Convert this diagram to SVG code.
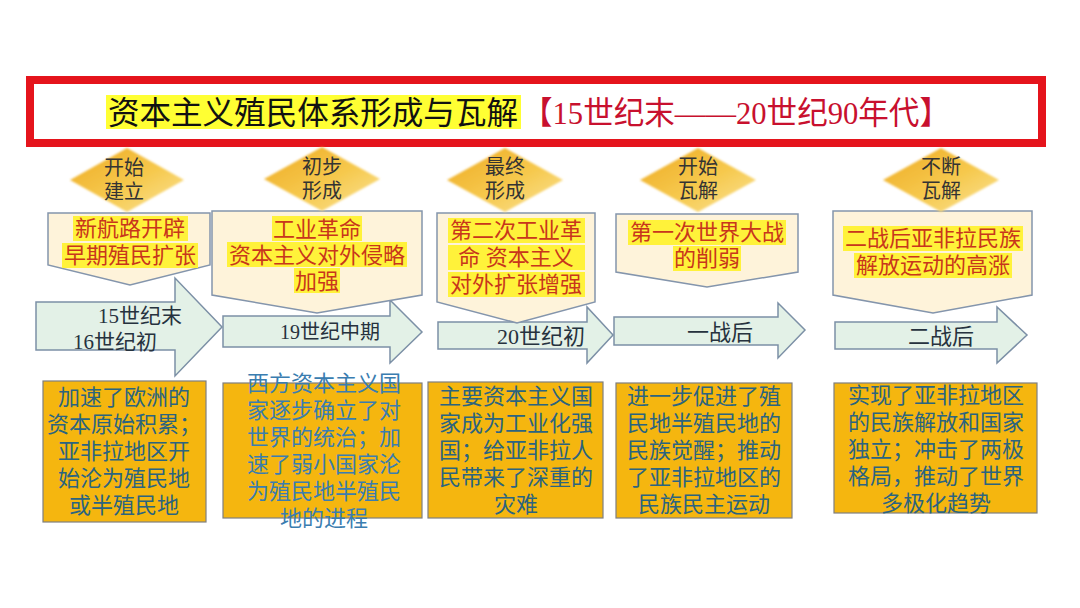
<svg xmlns="http://www.w3.org/2000/svg" width="1080" height="608" viewBox="0 0 1080 608">
<defs>
<linearGradient id="dg" x1="0" y1="0" x2="1" y2="1">
<stop offset="0" stop-color="#EEAA22"/>
<stop offset="0.55" stop-color="#F6C94E"/>
<stop offset="1" stop-color="#FBE49A"/>
</linearGradient>
<filter id="soft" x="-10%" y="-10%" width="120%" height="120%"><feGaussianBlur stdDeviation="1.2"/></filter>
</defs>
<style>
.t{font-family:"Liberation Serif","Noto Sans CJK SC",serif;}
.dia{fill:url(#dg);}
.dt{font-size:20px;fill:#333;text-anchor:middle;}
.call{fill:#FEF3DA;stroke:#8495AC;stroke-width:1.5;}
.hl{fill:#FFF23A;}
.ct{font-size:22px;fill:#C8361C;text-anchor:middle;}
.arr{fill:#E3F1E7;stroke:#7C90A6;stroke-width:1.5;}
.at{fill:#26323E;}
.box{fill:#F5B60F;stroke:#7F7F7F;stroke-width:1.2;}
.bt{font-size:22px;fill:#2B6480;text-anchor:middle;}
.bt2{fill:#3A7DB0;}
</style>
<rect width="1080" height="608" fill="#FFFFFF"/>

<g id="title">
<rect x="30" y="80" width="1012" height="63" fill="#FFFFFF" stroke="#E5141C" stroke-width="8"/>
<rect x="106" y="95" width="415" height="34" fill="#FFFF33"/>
<text class="t" x="108" y="124" font-size="32" fill="#111" textLength="410" lengthAdjust="spacingAndGlyphs">资本主义殖民体系形成与瓦解</text>
<text class="t" x="522" y="124" font-size="32" fill="#C8102E" textLength="428" lengthAdjust="spacingAndGlyphs">【15世纪末——20世纪90年代】</text>
</g>

<g id="connectors">
<polygon class="arr" points="36,302 175,302 175,278 222,327 175,376 175,350 36,350"/>
<polygon class="arr" points="223,316 390,316 390,300 422,332 390,363 390,347 223,347"/>
<polygon class="arr" points="438,322 587,322 587,307 613,335 587,363 587,349 438,349"/>
<polygon class="arr" points="614,317 778,317 778,303 805,330 778,358 778,345 614,345"/>
<polygon class="arr" points="835,322 997,322 997,307 1027,335 997,363 997,349 835,349"/>
<text class="t at" x="98" y="323" font-size="21">15世纪末</text>
<text class="t at" x="73" y="349" font-size="21">16世纪初</text>
<text class="t at" x="280" y="339" font-size="20">19世纪中期</text>
<text class="t at" x="497" y="344" font-size="22">20世纪初</text>
<text class="t at" x="687" y="340" font-size="22">一战后</text>
<text class="t at" x="908" y="344" font-size="22">二战后</text>
</g>

<g id="stage1">
<polygon class="call" points="48,213 210,213 210,265 130,285 48,265"/>
<rect class="hl" x="73" y="216" width="115" height="25"/>
<rect class="hl" x="62" y="243" width="136" height="25"/>
<text class="t ct" x="130" y="236">新航路开辟</text>
<text class="t ct" x="130" y="263">早期殖民扩张</text>
<polygon class="dia" points="127,148 184,180 127,212 70,180" filter="url(#soft)"/>
<text class="t dt" x="124" y="175">开始</text>
<text class="t dt" x="124" y="199">建立</text>
</g>

<g id="stage2">
<polygon class="call" points="212,211 422,211 422,295 317,313 212,295"/>
<rect class="hl" x="272" y="216" width="90" height="25"/>
<rect class="hl" x="227" y="242" width="180" height="25"/>
<rect class="hl" x="294" y="268" width="46" height="25"/>
<text class="t ct" x="317" y="237">工业革命</text>
<text class="t ct" x="317" y="263">资本主义对外侵略</text>
<text class="t ct" x="317" y="289">加强</text>
<polygon class="dia" points="322,147 380,179 322,211 264,179" filter="url(#soft)"/>
<text class="t dt" x="322" y="174">初步</text>
<text class="t dt" x="322" y="198">形成</text>
</g>

<g id="stage3">
<polygon class="call" points="437,213 595,213 595,302 517,323 437,302"/>
<rect class="hl" x="448" y="218" width="137" height="25"/>
<rect class="hl" x="448" y="245" width="137" height="25"/>
<rect class="hl" x="448" y="272" width="137" height="25"/>
<text class="t ct" x="516" y="238">第二次工业革</text>
<text class="t ct" x="516" y="265">命 资本主义</text>
<text class="t ct" x="516" y="292">对外扩张增强</text>
<polygon class="dia" points="505,148 563,180 505,212 447,180" filter="url(#soft)"/>
<text class="t dt" x="505" y="174">最终</text>
<text class="t dt" x="505" y="198">形成</text>
</g>

<g id="stage4">
<polygon class="call" points="616,214 798,214 798,272 707,287 616,272"/>
<rect class="hl" x="628" y="220" width="158" height="25"/>
<rect class="hl" x="673" y="246" width="68" height="25"/>
<text class="t ct" x="707" y="240">第一次世界大战</text>
<text class="t ct" x="707" y="266">的削弱</text>
<polygon class="dia" points="698,148 756,180 698,212 640,180" filter="url(#soft)"/>
<text class="t dt" x="698" y="174">开始</text>
<text class="t dt" x="698" y="198">瓦解</text>
</g>

<g id="stage5">
<polygon class="call" points="833,211 1032,211 1032,295 933,313 833,295"/>
<rect class="hl" x="843" y="226" width="180" height="25"/>
<rect class="hl" x="854" y="253" width="158" height="25"/>
<text class="t ct" x="933" y="246">二战后亚非拉民族</text>
<text class="t ct" x="933" y="273">解放运动的高涨</text>
<polygon class="dia" points="941,148 999,180 941,212 883,180" filter="url(#soft)"/>
<text class="t dt" x="941" y="174">不断</text>
<text class="t dt" x="941" y="198">瓦解</text>
</g>

<g id="result1">
<rect class="box" x="43" y="381" width="163" height="141"/>
<text class="t bt" x="124" y="405">加速了欧洲的</text>
<text class="t bt" x="124" y="432">资本原始积累；</text>
<text class="t bt" x="124" y="459">亚非拉地区开</text>
<text class="t bt" x="124" y="486">始沦为殖民地</text>
<text class="t bt" x="124" y="513">或半殖民地</text>
</g>

<g id="result2">
<rect class="box" x="223" y="383" width="199" height="135"/>
<text class="t bt bt2" x="324" y="391">西方资本主义国</text>
<text class="t bt bt2" x="324" y="418">家逐步确立了对</text>
<text class="t bt bt2" x="324" y="445">世界的统治；加</text>
<text class="t bt bt2" x="324" y="472">速了弱小国家沦</text>
<text class="t bt bt2" x="324" y="499">为殖民地半殖民</text>
<text class="t bt bt2" x="324" y="526">地的进程</text>
</g>

<g id="result3">
<rect class="box" x="428" y="382" width="175" height="136"/>
<text class="t bt" x="516" y="404">主要资本主义国</text>
<text class="t bt" x="516" y="431">家成为工业化强</text>
<text class="t bt" x="516" y="458">国；给亚非拉人</text>
<text class="t bt" x="516" y="485">民带来了深重的</text>
<text class="t bt" x="516" y="512">灾难</text>
</g>

<g id="result4">
<rect class="box" x="616" y="383" width="176" height="135"/>
<text class="t bt" x="704" y="404">进一步促进了殖</text>
<text class="t bt" x="704" y="431">民地半殖民地的</text>
<text class="t bt" x="704" y="458">民族觉醒；推动</text>
<text class="t bt" x="704" y="485">了亚非拉地区的</text>
<text class="t bt" x="704" y="512">民族民主运动</text>
</g>

<g id="result5">
<rect class="box" x="834" y="383" width="203" height="130"/>
<text class="t bt" x="936" y="403">实现了亚非拉地区</text>
<text class="t bt" x="936" y="430">的民族解放和国家</text>
<text class="t bt" x="936" y="457">独立；冲击了两极</text>
<text class="t bt" x="936" y="484">格局，推动了世界</text>
<text class="t bt" x="936" y="511">多极化趋势</text>
</g>
</svg>
